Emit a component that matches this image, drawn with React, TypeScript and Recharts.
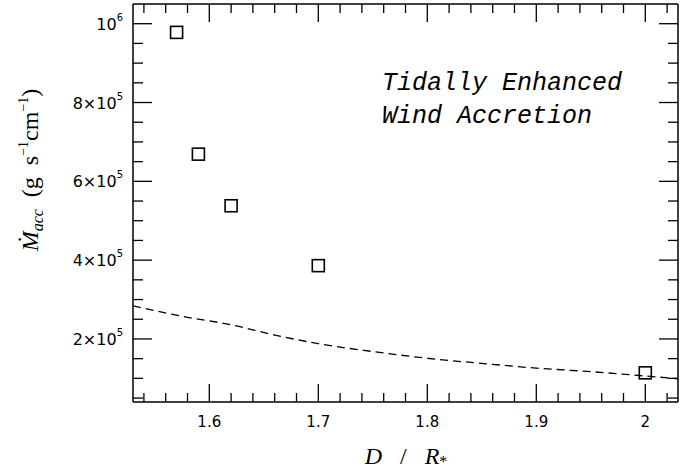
import React from 'react'
import { ComposedChart, Line, Scatter, XAxis, YAxis } from 'recharts'

// simulated accretion rates (squares)
const simD = [1.57, 1.59, 1.62, 1.7, 2.0]
const simMdot = [978000, 669000, 538000, 386000, 114000]

// wind accretion estimate (dashed curve)
const windD = [1.53, 1.58, 1.62, 1.66, 1.7, 1.75, 1.8, 1.85, 1.9, 1.95, 2.0, 2.03]
const windMdot = [284000, 255000, 236000, 210000, 188000, 168000, 151000, 138000, 126000, 117000, 106000, 99000]

const xMajor = [1.6, 1.7, 1.8, 1.9, 2]
const xMajorLabels = ['1.6', '1.7', '1.8', '1.9', '2']
const yMajor = [200000, 400000, 600000, 800000, 1000000]
const yMantissa = ['2×10', '4×10', '6×10', '8×10', '10']
const yExponent = ['5', '5', '5', '5', '6']

const xMinor: number[] = []
for (let i = 0; i <= 24; i++) xMinor.push(Math.round((1.54 + 0.02 * i) * 100) / 100)
const yMinor: number[] = []
for (let i = 1; i <= 20; i++) yMinor.push(i * 50000)

const simData = simD.map((d, i) => ({ d, mdot: simMdot[i] }))
const windData = windD.map((d, i) => ({ d, mdot: windMdot[i] }))

const X_DOMAIN: [number, number] = [1.53, 2.03]
const Y_DOMAIN: [number, number] = [40000, 1050000]

const tickFont = '"DejaVu Sans", sans-serif'
const serif = '"Liberation Serif", "DejaVu Serif", serif'

const majorX = (v: number) => xMajor.findIndex(m => Math.abs(m - v) < 1e-6)
const majorY = (v: number) => yMajor.findIndex(m => Math.abs(m - v) < 1)

const BottomTick = ({ x, y, payload }: any) => {
  const k = majorX(payload.value)
  return (
    <g>
      <line x1={x} x2={x} y1={y} y2={y - (k >= 0 ? 18 : 9)} stroke="#000" strokeWidth={1.3} />
      {k >= 0 && (
        <text x={x} y={y + 25} textAnchor="middle" fontSize={15} fontFamily={tickFont} fill="#000">
          {xMajorLabels[k]}
        </text>
      )}
    </g>
  )
}

const TopTick = ({ x, y, payload }: any) => {
  const k = majorX(payload.value)
  return <line x1={x} x2={x} y1={y} y2={y + (k >= 0 ? 18 : 9)} stroke="#000" strokeWidth={1.3} />
}

const LeftTick = ({ x, y, payload }: any) => {
  const k = majorY(payload.value)
  return (
    <g>
      <line x1={x} x2={x + (k >= 0 ? 19 : 10)} y1={y} y2={y} stroke="#000" strokeWidth={1.3} />
      {k >= 0 && (
        <text x={x - 10} y={y + 6} textAnchor="end" fontSize={16} fontFamily={tickFont} fill="#000">
          {yMantissa[k]}
          <tspan fontSize={10} dy={-9}>{yExponent[k]}</tspan>
        </text>
      )}
    </g>
  )
}

const RightTick = ({ x, y, payload }: any) => {
  const k = majorY(payload.value)
  return <line x1={x} x2={x - (k >= 0 ? 19 : 10)} y1={y} y2={y} stroke="#000" strokeWidth={1.3} />
}

const OpenSquare = ({ cx, cy }: any) => (
  <rect x={cx - 6} y={cy - 6} width={12} height={12} fill="none" stroke="#000" strokeWidth={1.6} />
)

const frame = { stroke: '#000', strokeWidth: 1.5 }
const pre = { whiteSpace: 'pre' as const }

export default function App() {
  return (
    <div style={{ position: 'absolute', left: 0, top: 0, width: 686, height: 469, background: '#fff' }}>
      <ComposedChart width={686} height={469} margin={{ top: 3, right: 7, bottom: 0, left: 0 }}>
        <XAxis
          xAxisId="bottom"
          dataKey="d"
          type="number"
          domain={X_DOMAIN}
          allowDataOverflow
          ticks={xMinor}
          interval={0}
          height={67}
          tickSize={0}
          tickMargin={0}
          tickLine={false}
          axisLine={frame}
          tick={<BottomTick />}
        />
        {/* mirrored axes: a 1px band is enough for the axis to be drawn */}
        <XAxis
          xAxisId="top"
          orientation="top"
          dataKey="d"
          type="number"
          domain={X_DOMAIN}
          allowDataOverflow
          ticks={xMinor}
          interval={0}
          height={1}
          tickSize={0}
          tickMargin={0}
          tickLine={false}
          axisLine={frame}
          tick={<TopTick />}
        />
        <YAxis
          yAxisId="left"
          dataKey="mdot"
          type="number"
          domain={Y_DOMAIN}
          allowDataOverflow
          ticks={yMinor}
          interval={0}
          width={133}
          tickSize={0}
          tickMargin={0}
          tickLine={false}
          axisLine={frame}
          tick={<LeftTick />}
        />
        <YAxis
          yAxisId="right"
          orientation="right"
          dataKey="mdot"
          type="number"
          domain={Y_DOMAIN}
          allowDataOverflow
          ticks={yMinor}
          interval={0}
          width={1}
          tickSize={0}
          tickMargin={0}
          tickLine={false}
          axisLine={frame}
          tick={<RightTick />}
        />
        <Line
          xAxisId="top"
          yAxisId="right"
          data={windData}
          dataKey="mdot"
          stroke="none"
          dot={false}
          activeDot={false}
          legendType="none"
          isAnimationActive={false}
        />
        <Line
          xAxisId="bottom"
          yAxisId="left"
          data={windData}
          dataKey="mdot"
          type="monotone"
          stroke="#000"
          strokeWidth={1.3}
          strokeDasharray="8 5"
          dot={false}
          activeDot={false}
          isAnimationActive={false}
        />
        <Scatter
          xAxisId="bottom"
          yAxisId="left"
          data={simData}
          dataKey="mdot"
          shape={<OpenSquare />}
          isAnimationActive={false}
        />
      </ComposedChart>
      <svg width={686} height={469} style={{ position: 'absolute', left: 0, top: 0, pointerEvents: 'none' }}>
        <text fontFamily={'"Liberation Mono", "DejaVu Sans Mono", monospace'} fontStyle="italic" fontSize={25} fill="#000" style={pre}>
          <tspan x={382} y={90}>Tidally Enhanced</tspan>
          <tspan x={382} y={123}>Wind Accretion</tspan>
        </text>
        <text x={406} y={464} textAnchor="middle" fontFamily={serif} fontSize={24} fill="#000" style={pre}>
          <tspan fontStyle="italic">D</tspan>
          <tspan>{'   /   '}</tspan>
          <tspan fontStyle="italic">R</tspan>
          <tspan fontSize={16} dy={3}>*</tspan>
        </text>
        <text
          x={38}
          y={170}
          transform="rotate(-90, 38, 170)"
          textAnchor="middle"
          fontFamily={serif}
          fontSize={24}
          fill="#000"
          style={pre}
        >
          <tspan fontStyle="italic">Ṁ</tspan>
          <tspan fontStyle="italic" fontSize={16} dy={5}>acc</tspan>
          <tspan dy={-5}>{'  (g  s'}</tspan>
          <tspan fontSize={14} dy={-10}>−1</tspan>
          <tspan dy={10}>cm</tspan>
          <tspan fontSize={14} dy={-10}>−1</tspan>
          <tspan dy={10}>)</tspan>
        </text>
      </svg>
    </div>
  )
}
